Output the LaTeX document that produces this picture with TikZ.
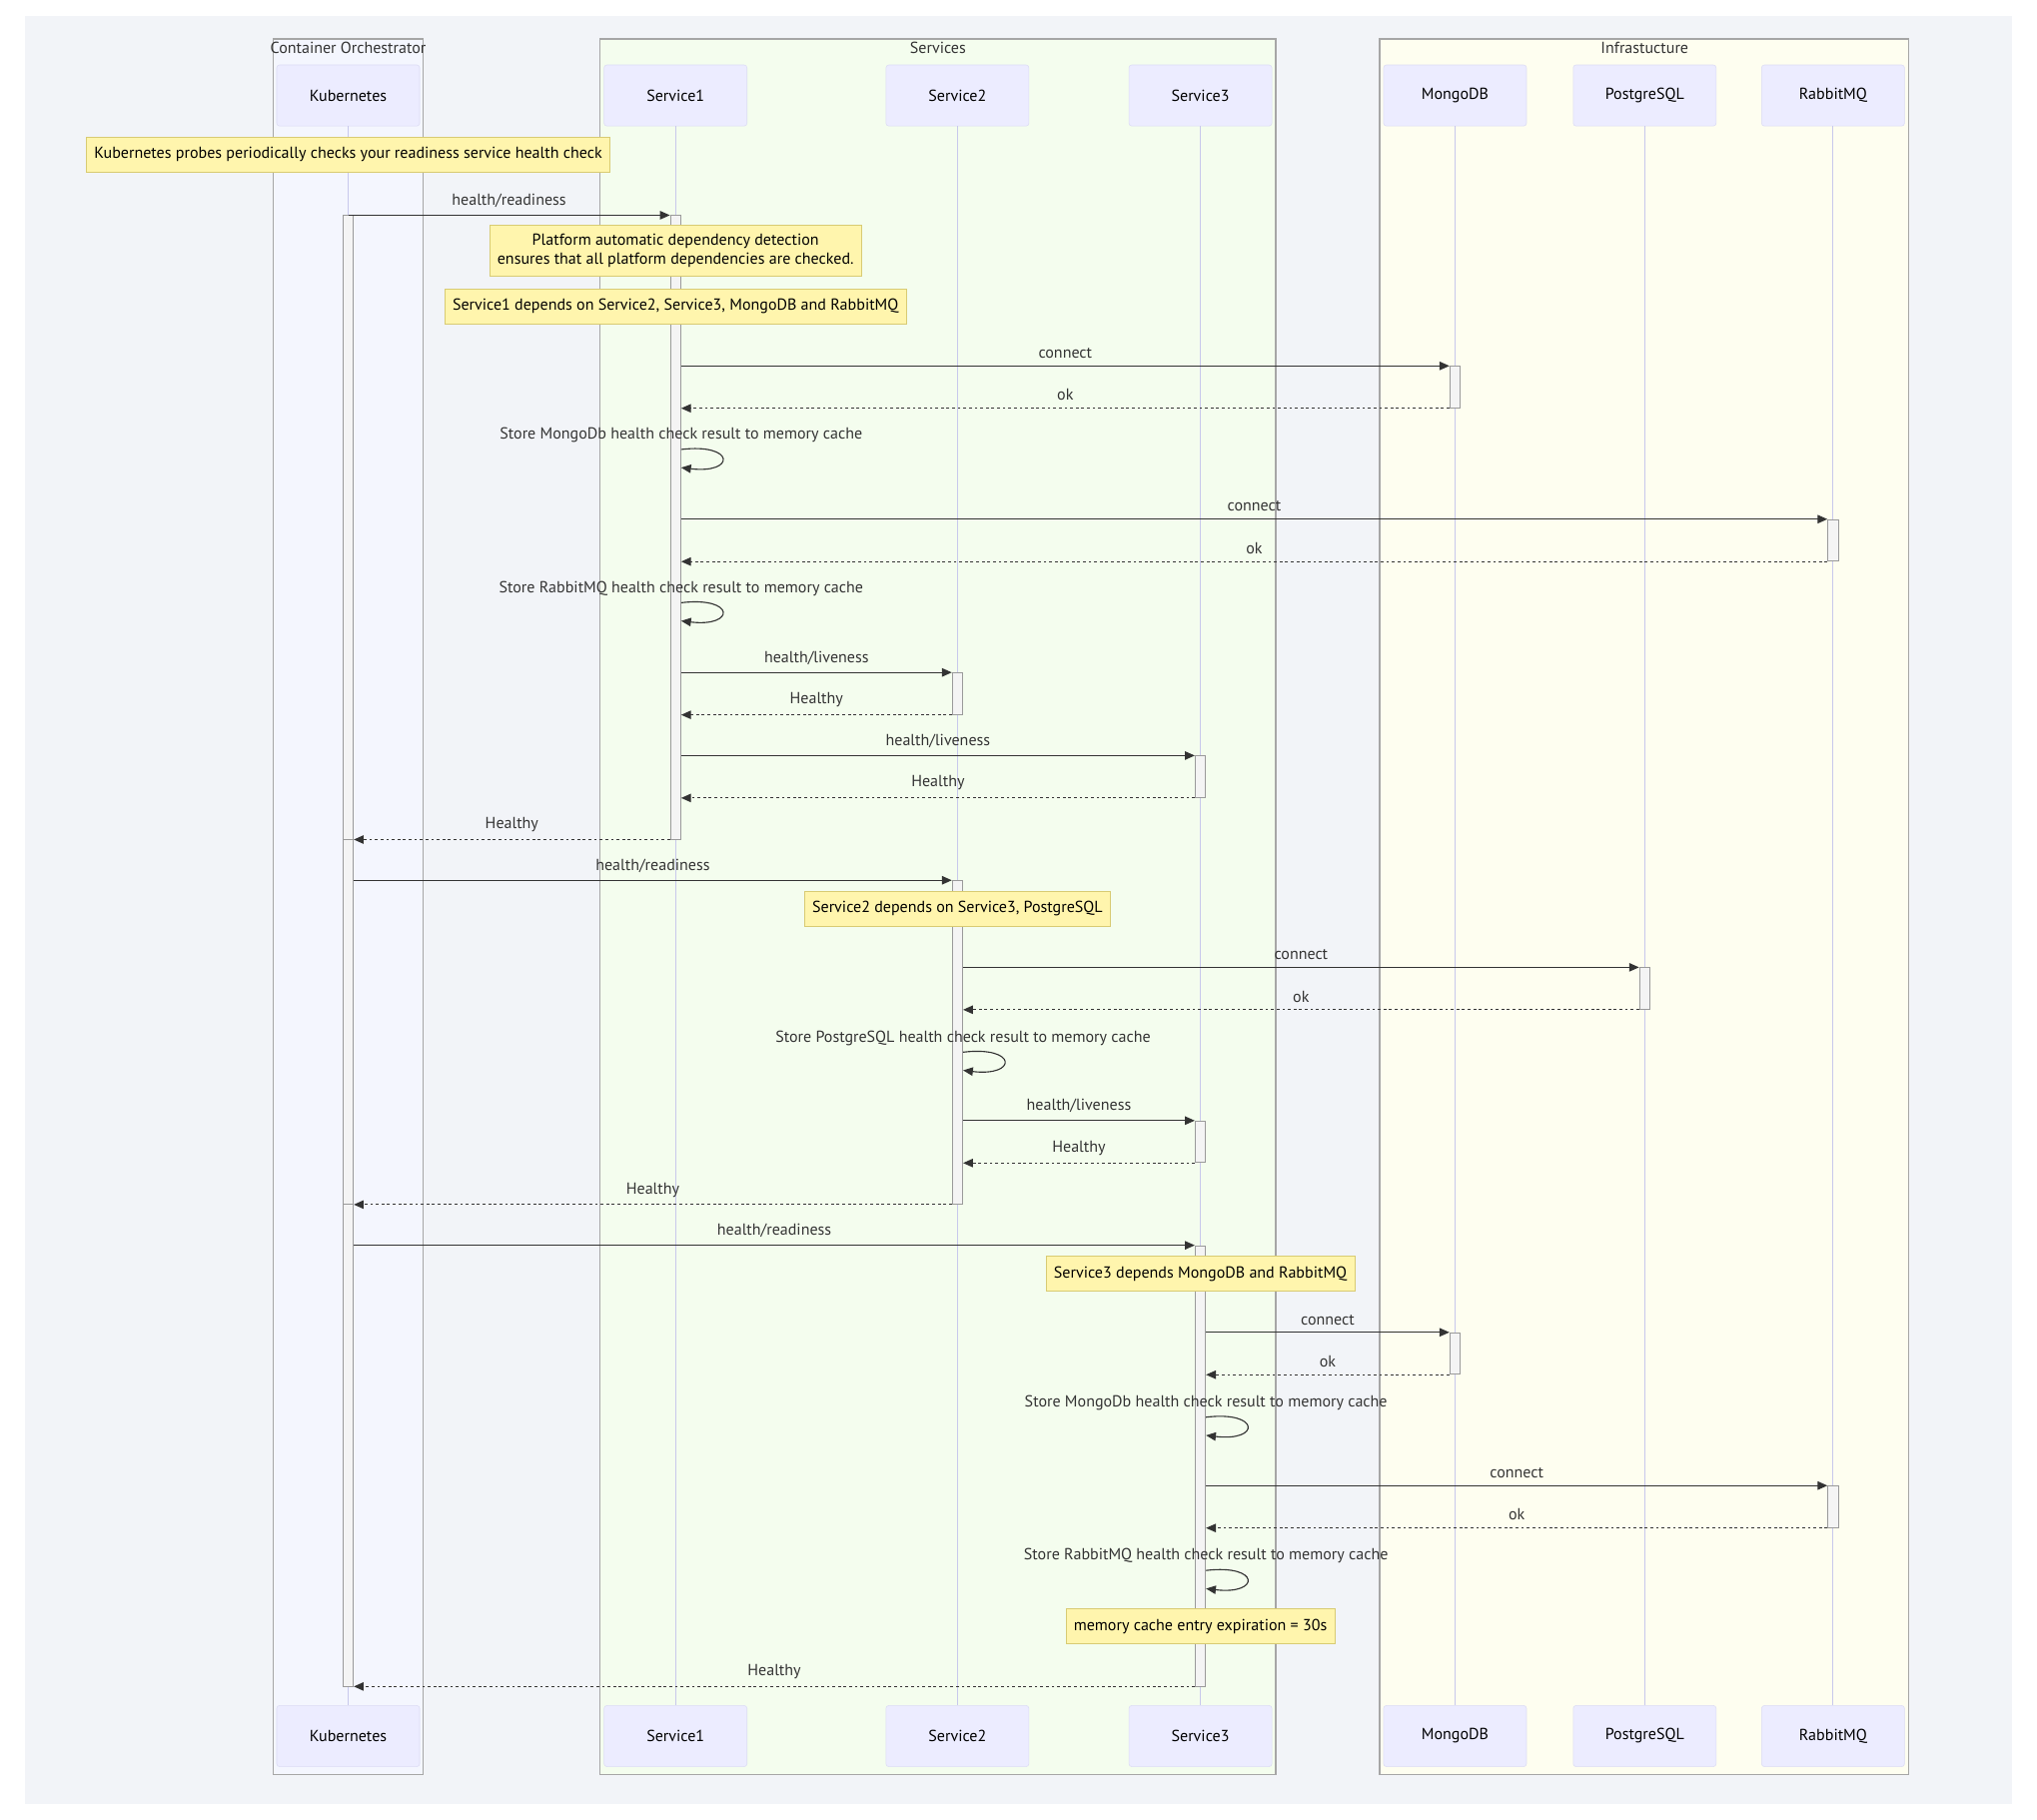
\documentclass[tikz,border=0pt]{standalone}
\usepackage{fontspec}
\setmainfont{PT Sans}
\usepackage{xcolor}
\usepackage{tikz}
\usetikzlibrary{arrows.meta}
\definecolor{panelgrey}{HTML}{F2F4F8}
\definecolor{orchfill}{HTML}{F4F6FE}
\definecolor{svcfill}{HTML}{F4FDEE}
\definecolor{infrafill}{HTML}{FEFEF0}
\definecolor{grpline}{HTML}{A6A6A6}
\definecolor{actorfill}{HTML}{ECECFF}
\definecolor{actorline}{HTML}{DCDCF4}
\definecolor{lifecol}{HTML}{C8C8EC}
\definecolor{notefill}{HTML}{FFF5AD}
\definecolor{noteline}{HTML}{D8CB73}
\definecolor{actfill}{HTML}{F4F4F4}
\definecolor{actline}{HTML}{9A9A9A}
\definecolor{inkgrey}{HTML}{333333}
\newcommand{\pxu}{0.0325cm}

\begin{document}
\begin{tikzpicture}[x=0.0325cm,y=-0.0325cm,
  font=\fontsize{11.4}{13.4}\selectfont,
  actor/.style={rectangle,draw=actorline,fill=actorfill,rounded corners=2pt,
    minimum width=110*\pxu,minimum height=47*\pxu,text=black},
  grp/.style={draw=grpline,line width=0.8pt},
  grptitle/.style={inner sep=0pt,text=inkgrey},
  life/.style={draw=lifecol,line width=0.6pt},
  act/.style={rectangle,draw=actline,fill=actfill,line width=0.6pt,
    minimum width=8*\pxu,inner sep=0pt},
  note/.style={rectangle,draw=noteline,fill=notefill,line width=0.6pt,
    inner xsep=6*\pxu,inner ysep=7*\pxu,minimum height=27*\pxu,align=center,text=black},
  call/.style={draw=inkgrey,line width=0.8pt,-{Triangle[length=7pt,width=6pt]}},
  ret/.style={call,dash pattern=on 2pt off 2pt},
  lbl/.style={inner sep=1pt,text=inkgrey}]

  % page and panel
  \fill[white] (0,0) rectangle (1568,1401);
  \fill[panelgrey] (19,12) rectangle (1549,1389);

  % groups
  \draw[grp,fill=orchfill] (210,30) rectangle (326,1366);
  \draw[grp,fill=svcfill] (462,30) rectangle (982,1366);
  \draw[grp,fill=infrafill] (1062,30) rectangle (1469,1366);
  \node[grptitle] (t_orch) at (268,37) {Container Orchestrator};
  \node[grptitle] (t_svc) at (722,37) {Services};
  \node[grptitle] (t_infra) at (1266,37) {Infrastucture};

  % participants
  \node[actor] (k) at (268,73.5) {Kubernetes};
  \node[actor] (s1) at (520,73.5) {Service1};
  \node[actor] (s2) at (737,73.5) {Service2};
  \node[actor] (s3) at (924,73.5) {Service3};
  \node[actor] (mdb) at (1120,73.5) {MongoDB};
  \node[actor] (pg) at (1266,73.5) {PostgreSQL};
  \node[actor] (rmq) at (1411,73.5) {RabbitMQ};

  \node[actor] (k_b) at (k |- 0,1336.5) {Kubernetes};
  \node[actor] (s1_b) at (s1 |- 0,1336.5) {Service1};
  \node[actor] (s2_b) at (s2 |- 0,1336.5) {Service2};
  \node[actor] (s3_b) at (s3 |- 0,1336.5) {Service3};
  \node[actor] (mdb_b) at (mdb |- 0,1336.5) {MongoDB};
  \node[actor] (pg_b) at (pg |- 0,1336.5) {PostgreSQL};
  \node[actor] (rmq_b) at (rmq |- 0,1336.5) {RabbitMQ};

  \draw[life] (k.south) -- (k_b.north);
  \draw[life] (s1.south) -- (s1_b.north);
  \draw[life] (s2.south) -- (s2_b.north);
  \draw[life] (s3.south) -- (s3_b.north);
  \draw[life] (mdb.south) -- (mdb_b.north);
  \draw[life] (pg.south) -- (pg_b.north);
  \draw[life] (rmq.south) -- (rmq_b.north);

  % activations
  \node[act,minimum height=480*\pxu] (a_k1) at (k |- 0,406) {};
  \node[act,minimum height=281*\pxu] (a_k2) at (k |- 0,786.5) {};
  \node[act,minimum height=371*\pxu] (a_k3) at (k |- 0,1112.5) {};
  \node[act,minimum height=480*\pxu] (a_s1) at (s1 |- 0,406) {};
  \node[act,minimum height=32*\pxu] (a_m1) at (mdb |- 0,298) {};
  \node[act,minimum height=32*\pxu] (a_r1) at (rmq |- 0,416) {};
  \node[act,minimum height=32*\pxu] (a_s2a) at (s2 |- 0,534) {};
  \node[act,minimum height=32*\pxu] (a_s3a) at (s3 |- 0,598) {};
  \node[act,minimum height=249*\pxu] (a_s2b) at (s2 |- 0,802.5) {};
  \node[act,minimum height=32*\pxu] (a_p1) at (pg |- 0,761) {};
  \node[act,minimum height=32*\pxu] (a_s3b) at (s3 |- 0,879) {};
  \node[act,minimum height=339*\pxu] (a_s3c) at (s3 |- 0,1128.5) {};
  \node[act,minimum height=32*\pxu] (a_m2) at (mdb |- 0,1042) {};
  \node[act,minimum height=32*\pxu] (a_r2) at (rmq |- 0,1160) {};

  % Service1 round
  \draw[call] (a_k1.north) -- (a_s1.north west) node[lbl,midway,above=4pt] (l1) {health/readiness};
  \draw[call] (a_s1.east |- a_m1.north) -- (a_m1.north west) node[lbl,midway,above=4pt] (l2) {connect};
  \draw[ret] (a_m1.south west) -- (a_s1.east |- a_m1.south) node[lbl,midway,above=4pt] (l3) {ok};
  \node[lbl] (l4) at (a_s1.east |- 0,335) {Store MongoDb health check result to memory cache};
  \draw[call] (a_s1.east |- 0,346) .. controls +(42,-5) and +(42,5) .. (a_s1.east |- 0,360);
  \draw[call] (a_s1.east |- a_r1.north) -- (a_r1.north west) node[lbl,midway,above=4pt] (l5) {connect};
  \draw[ret] (a_r1.south west) -- (a_s1.east |- a_r1.south) node[lbl,midway,above=4pt] (l6) {ok};
  \node[lbl] (l7) at (a_s1.east |- 0,453) {Store RabbitMQ health check result to memory cache};
  \draw[call] (a_s1.east |- 0,464) .. controls +(42,-5) and +(42,5) .. (a_s1.east |- 0,478);
  \draw[call] (a_s1.east |- a_s2a.north) -- (a_s2a.north west) node[lbl,midway,above=4pt] (l8) {health/liveness};
  \draw[ret] (a_s2a.south west) -- (a_s1.east |- a_s2a.south) node[lbl,midway,above=4pt] (l9) {Healthy};
  \draw[call] (a_s1.east |- a_s3a.north) -- (a_s3a.north west) node[lbl,midway,above=4pt] (l10) {health/liveness};
  \draw[ret] (a_s3a.south west) -- (a_s1.east |- a_s3a.south) node[lbl,midway,above=4pt] (l11) {Healthy};
  \draw[ret] (a_s1.south west) -- (a_k1.south east) node[lbl,midway,above=4pt] (l12) {Healthy};

  % Service2 round
  \draw[call] (a_k2.east |- a_s2b.north) -- (a_s2b.north west) node[lbl,midway,above=4pt] (l13) {health/readiness};
  \draw[call] (a_s2b.east |- a_p1.north) -- (a_p1.north west) node[lbl,midway,above=4pt] (l14) {connect};
  \draw[ret] (a_p1.south west) -- (a_s2b.east |- a_p1.south) node[lbl,midway,above=4pt] (l15) {ok};
  \node[lbl] (l16) at (a_s2b.east |- 0,799) {Store PostgreSQL health check result to memory cache};
  \draw[call] (a_s2b.east |- 0,810) .. controls +(42,-5) and +(42,5) .. (a_s2b.east |- 0,824);
  \draw[call] (a_s2b.east |- a_s3b.north) -- (a_s3b.north west) node[lbl,midway,above=4pt] (l17) {health/liveness};
  \draw[ret] (a_s3b.south west) -- (a_s2b.east |- a_s3b.south) node[lbl,midway,above=4pt] (l18) {Healthy};
  \draw[ret] (a_s2b.south west) -- (a_k2.south east) node[lbl,midway,above=4pt] (l19) {Healthy};

  % Service3 round
  \draw[call] (a_k3.east |- a_s3c.north) -- (a_s3c.north west) node[lbl,midway,above=4pt] (l20) {health/readiness};
  \draw[call] (a_s3c.east |- a_m2.north) -- (a_m2.north west) node[lbl,midway,above=4pt] (l21) {connect};
  \draw[ret] (a_m2.south west) -- (a_s3c.east |- a_m2.south) node[lbl,midway,above=4pt] (l22) {ok};
  \node[lbl] (l23) at (a_s3c.east |- 0,1080) {Store MongoDb health check result to memory cache};
  \draw[call] (a_s3c.east |- 0,1091) .. controls +(42,-5) and +(42,5) .. (a_s3c.east |- 0,1105);
  \draw[call] (a_s3c.east |- a_r2.north) -- (a_r2.north west) node[lbl,midway,above=4pt] (l24) {connect};
  \draw[ret] (a_r2.south west) -- (a_s3c.east |- a_r2.south) node[lbl,midway,above=4pt] (l25) {ok};
  \node[lbl] (l26) at (a_s3c.east |- 0,1198) {Store RabbitMQ health check result to memory cache};
  \draw[call] (a_s3c.east |- 0,1209) .. controls +(42,-5) and +(42,5) .. (a_s3c.east |- 0,1223);
  \draw[ret] (a_s3c.south west) -- (a_k3.south east) node[lbl,midway,above=4pt] (l27) {Healthy};

  % notes
  \node[note] (n_probe) at (k |- 0,119) {Kubernetes probes periodically checks your readiness service health check};
  \node[note] (n_auto) at (s1 |- 0,193) {Platform automatic dependency detection\\ensures that all platform dependencies are checked.};
  \node[note] (n_dep1) at (s1 |- 0,236) {Service1 depends on Service2, Service3, MongoDB and RabbitMQ};
  \node[note] (n_dep2) at (s2 |- 0,699.5) {Service2 depends on Service3, PostgreSQL};
  \node[note] (n_dep3) at (s3 |- 0,980.5) {Service3 depends MongoDB and RabbitMQ};
  \node[note] (n_cache) at (s3 |- 0,1252) {memory cache entry expiration = 30s};
\end{tikzpicture}
\end{document}
